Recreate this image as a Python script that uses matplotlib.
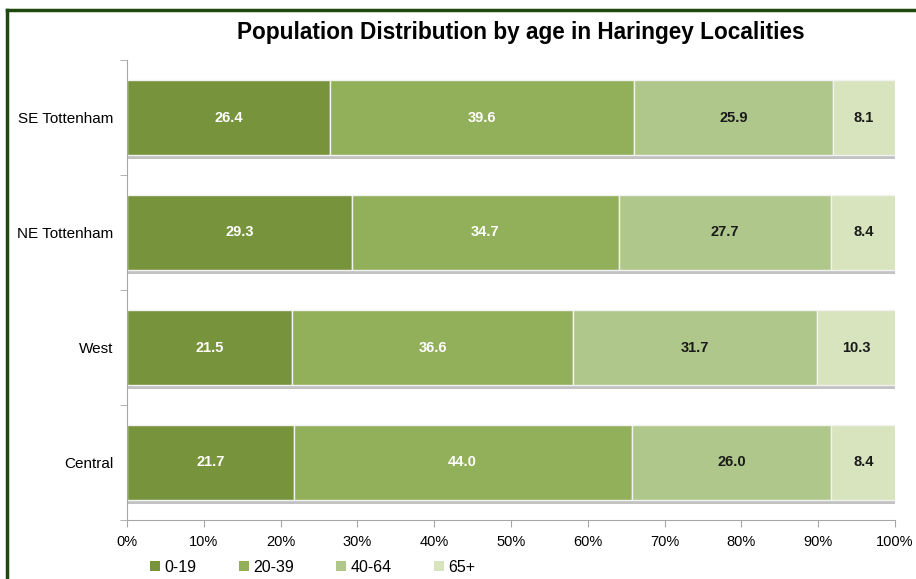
import matplotlib

matplotlib.use("Agg")
import matplotlib.pyplot as plt
import numpy as np
from matplotlib.lines import Line2D
from matplotlib.patches import Patch
from matplotlib.patheffects import Normal, SimplePatchShadow

plt.rcParams["font.family"] = ["Liberation Sans", "DejaVu Sans"]

localities = ["SE Tottenham", "NE Tottenham", "West", "Central"]
age_groups = ["0-19", "20-39", "40-64", "65+"]
age_0_19 = [26.4, 29.3, 21.5, 21.7]
age_20_39 = [39.6, 34.7, 36.6, 44.0]
age_40_64 = [25.9, 27.7, 31.7, 26.0]
age_65_plus = [8.1, 8.4, 10.3, 8.4]
x_ticks = [0, 10, 20, 30, 40, 50, 60, 70, 80, 90, 100]

colors = ["#77933C", "#92B05A", "#AFC78A", "#D7E4BD"]
text_colors = ["white", "white", "#1a1a1a", "#1a1a1a"]


def main():
    fig = plt.figure(figsize=(9.16, 5.79), dpi=100)
    ax = fig.add_axes([127 / 916, 1 - 520 / 579, 768 / 916, 460 / 579])

    series = [age_0_19, age_20_39, age_40_64, age_65_plus]
    y = np.arange(len(localities))
    left = np.zeros(len(localities))
    shadow = [SimplePatchShadow(offset=(0, -2.5), shadow_rgbFace="#9a9a9a", alpha=0.6), Normal()]
    for vals, color, tcolor in zip(series, colors, text_colors):
        vals = np.array(vals)
        bars = ax.barh(y, vals, left=left, height=0.66, color=color,
                       edgecolor="#f2f2f2", linewidth=1.0)
        for b in bars:
            b.set_path_effects(shadow)
        for yi, v, l in zip(y, vals, left):
            ax.text(l + v / 2, yi, f"{v:.1f}", ha="center", va="center",
                    color=tcolor, fontsize=10.5, fontweight="bold")
        left += vals

    ax.set_xlim(0, 100)
    ax.set_ylim(len(localities) - 0.5, -0.5)
    ax.set_xticks(x_ticks)
    ax.set_xticklabels([f"{t}%" for t in x_ticks], fontsize=10.5)
    ax.set_yticks(y)
    ax.set_yticklabels(localities, fontsize=11)
    ax.tick_params(axis="y", length=0, pad=10)
    ax.set_yticks(np.arange(len(localities) + 1) - 0.5, minor=True)
    ax.tick_params(axis="y", which="minor", length=5, color="#a6a6a6")
    ax.tick_params(axis="x", length=5, color="#a6a6a6", pad=6)

    for side in ["top", "right"]:
        ax.spines[side].set_visible(False)
    for side in ["left", "bottom"]:
        ax.spines[side].set_color("#a6a6a6")

    fig.text(521 / 916, 1 - 33 / 579, "Population Distribution by age in Haringey Localities",
             ha="center", va="center", fontsize=16.3, fontweight="bold")

    handles = [Patch(facecolor=c, edgecolor="none", label=g) for c, g in zip(colors, age_groups)]
    fig.legend(handles=handles, loc="center", bbox_to_anchor=(313 / 916, 1 - 567 / 579), ncol=4,
               frameon=False, fontsize=11.5, handlelength=0.6, handleheight=0.6,
               handletextpad=0.3, columnspacing=2.65)

    # dark green frame along the top and left edges
    fig.add_artist(Line2D([7 / 916, 7 / 916], [0, 1 - 10 / 579], color="#1e4a0e", linewidth=2.5))
    fig.add_artist(Line2D([7 / 916, 1], [1 - 10 / 579, 1 - 10 / 579], color="#1e4a0e", linewidth=2.5))

    fig.savefig("out.png", dpi=100)


if __name__ == "__main__":
    main()
